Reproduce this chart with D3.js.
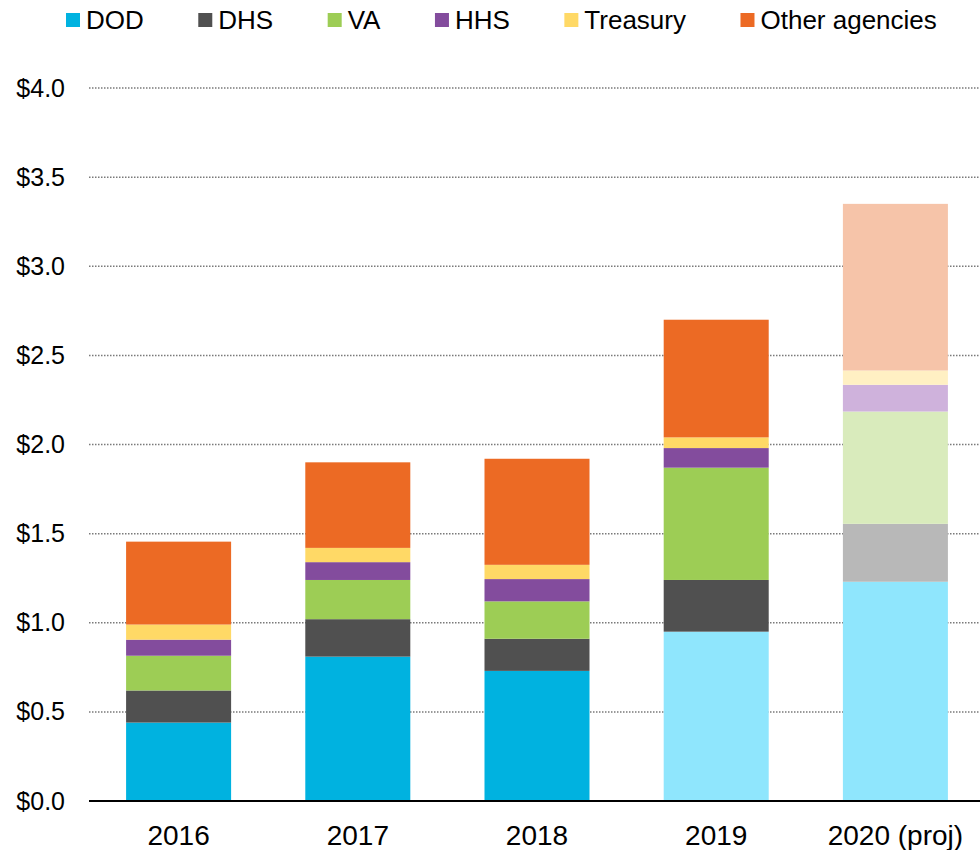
<!DOCTYPE html>
<html>
<head>
<meta charset="utf-8">
<script src="https://cdn.jsdelivr.net/npm/d3@7"></script>
<style>
  body { margin: 0; background: #fff; }
  svg { display: block; font-family: "Liberation Sans", Arial, sans-serif; }
</style>
</head>
<body>
<script>
"use strict";

// data (billions of dollars)
var years = ['2016', '2017', '2018', '2019', '2020 (proj)'];
var agencies = ['DOD', 'DHS', 'VA', 'HHS', 'Treasury', 'Other agencies'];
var dod = [0.44, 0.81, 0.73, 0.95, 1.23];
var dhs = [0.18, 0.21, 0.18, 0.29, 0.325];
var va = [0.195, 0.22, 0.21, 0.63, 0.63];
var hhs = [0.09, 0.10, 0.125, 0.11, 0.15];
var treasury = [0.085, 0.08, 0.08, 0.06, 0.08];
var other = [0.465, 0.48, 0.595, 0.66, 0.935];
var yTicks = [0, 0.5, 1, 1.5, 2, 2.5, 3, 3.5, 4];

// segments drawn in the pale tint
var paleYears = ['2020 (proj)'];
var paleDodYears = ['2019', '2020 (proj)'];

var colors = ['#00b2e0', '#505050', '#9dcd55', '#834c9d', '#ffd966', '#ec6a24'];
var paleColors = ['#8fe6fd', '#b8b8b8', '#d9ebbc', '#cfb2dc', '#fff0c3', '#f6c4a9'];

var width = 980, height = 850;

var svg = d3.select('body').append('svg')
  .attr('width', width)
  .attr('height', height);

var rows = years.map(function(y, i) {
  return {year: y, 'DOD': dod[i], 'DHS': dhs[i], 'VA': va[i], 'HHS': hhs[i],
    'Treasury': treasury[i], 'Other agencies': other[i]};
});

var stacked = d3.stack().keys(agencies)(rows);

// scales
var x = d3.scaleBand()
  .domain(years)
  .range([89, 985])
  .paddingInner(0.414)
  .paddingOuter(0.207);

var y = d3.scaleLinear()
  .domain([0, 4])
  .range([801, 88]);

// gridlines
svg.append('g')
  .selectAll('line')
  .data(yTicks.slice(1))
  .enter().append('line')
  .attr('x1', 89)
  .attr('x2', width)
  .attr('y1', function(d) { return y(d); })
  .attr('y2', function(d) { return y(d); })
  .attr('stroke', '#7a7a7a')
  .attr('stroke-width', 1.5)
  .attr('stroke-dasharray', '1.5,1.5');

// y labels
var yAxis = d3.axisLeft(y)
  .tickValues(yTicks)
  .tickSize(0)
  .tickPadding(0)
  .tickFormat(function(d) { return '$' + d3.format('.1f')(d); });

svg.append('g')
  .attr('transform', 'translate(65,0)')
  .call(yAxis)
  .call(function(g) { g.select('.domain').remove(); })
  .selectAll('text')
  .attr('font-size', 25)
  .attr('font-family', '"Liberation Sans", Arial, sans-serif')
  .attr('fill', '#000');

// bars
svg.append('g')
  .selectAll('g')
  .data(stacked)
  .enter().append('g')
  .each(function(layer, k) {
    d3.select(this).selectAll('rect')
      .data(layer)
      .enter().append('rect')
      .attr('x', function(d) { return x(d.data.year); })
      .attr('width', x.bandwidth())
      .attr('y', function(d) { return y(d[1]); })
      .attr('height', function(d) { return y(d[0]) - y(d[1]); })
      .attr('fill', function(d) {
        var pale = paleYears.indexOf(d.data.year) >= 0 ||
          (layer.key === 'DOD' && paleDodYears.indexOf(d.data.year) >= 0);
        return pale ? paleColors[k] : colors[k];
      });
  });

// x axis
var xAxis = d3.axisBottom(x).tickSize(0).tickPadding(24);

svg.append('g')
  .attr('transform', 'translate(0,801)')
  .call(xAxis)
  .call(function(g) { g.select('.domain').remove(); })
  .selectAll('text')
  .attr('font-size', 28)
  .attr('font-family', '"Liberation Sans", Arial, sans-serif')
  .attr('fill', '#000');

svg.append('line')
  .attr('x1', 89)
  .attr('x2', width)
  .attr('y1', 801)
  .attr('y2', 801)
  .attr('stroke', '#000')
  .attr('stroke-width', 2);

// legend
var legend = svg.append('g');
var lx = 66;
agencies.forEach(function(a, i) {
  legend.append('rect')
    .attr('x', lx)
    .attr('y', 13)
    .attr('width', 14)
    .attr('height', 14)
    .attr('fill', colors[i]);
  var t = legend.append('text')
    .attr('x', lx + 20)
    .attr('y', 29)
    .attr('font-size', 26)
    .attr('fill', '#000')
    .text(a);
  lx += 20 + t.node().getComputedTextLength() + 54.5;
});
</script>
</body>
</html>
